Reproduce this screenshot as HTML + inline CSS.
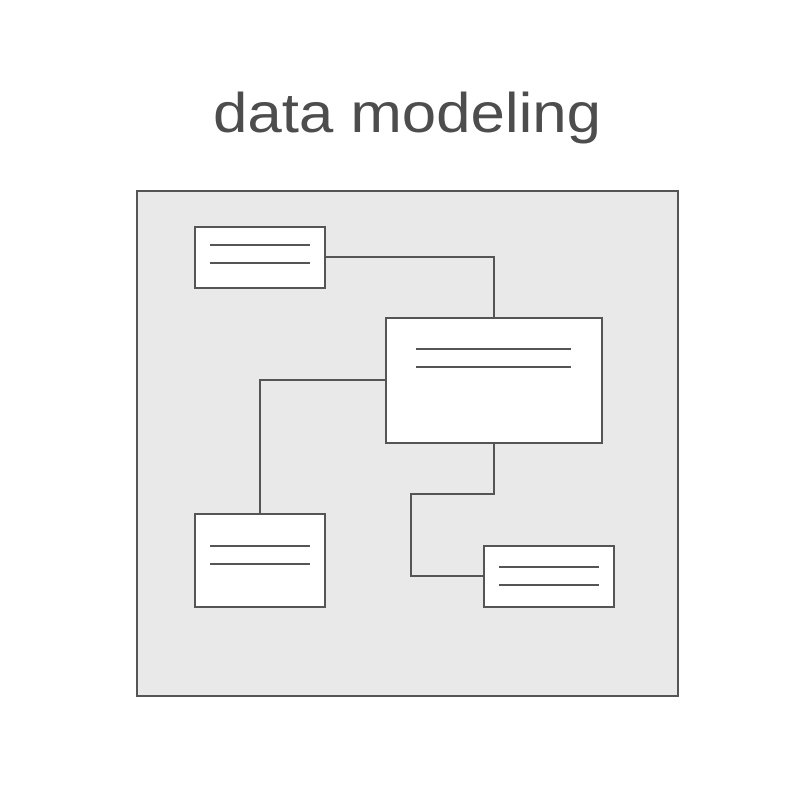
<!DOCTYPE html>
<html><head><meta charset="utf-8"><style>html,body{margin:0;padding:0;background:#fff}</style></head>
<body>
<svg width="800" height="802" viewBox="0 0 800 802" xmlns="http://www.w3.org/2000/svg">
<rect width="800" height="802" fill="#fff"/>
<text x="407" y="132" text-anchor="middle" font-family="Liberation Sans, sans-serif" font-size="56" fill="#4d4d4d" textLength="388" lengthAdjust="spacingAndGlyphs">data modeling</text>
<g stroke="#555" stroke-width="2" fill="none">
<rect x="137" y="191" width="541" height="505" fill="#e9e9e9"/>
<polyline points="325,257 494,257 494,318"/>
<polyline points="386,380 260,380 260,514"/>
<polyline points="494,443 494,494 411,494 411,576 484,576"/>
<rect x="195" y="227" width="130" height="61" fill="#fff"/>
<rect x="386" y="318" width="216" height="125" fill="#fff"/>
<rect x="195" y="514" width="130" height="93" fill="#fff"/>
<rect x="484" y="546" width="130" height="61" fill="#fff"/>
<line x1="210" y1="245" x2="310" y2="245"/>
<line x1="210" y1="263" x2="310" y2="263"/>
<line x1="416" y1="349" x2="571" y2="349"/>
<line x1="416" y1="367" x2="571" y2="367"/>
<line x1="210" y1="546" x2="310" y2="546"/>
<line x1="210" y1="564" x2="310" y2="564"/>
<line x1="499" y1="567" x2="599" y2="567"/>
<line x1="499" y1="585" x2="599" y2="585"/>
</g>
</svg>
</body></html>
